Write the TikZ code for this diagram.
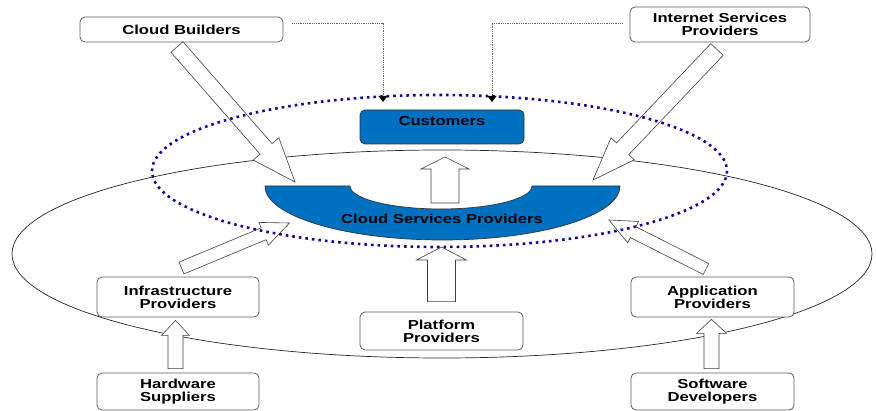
\documentclass[tikz,border=0pt]{standalone}
\usepackage{fontspec}
\usepackage{tikz}
\usetikzlibrary{arrows.meta, positioning, calc}
\newfontfamily\labelfont{Liberation Sans}[FakeStretch=1.28]
\definecolor{csblue}{RGB}{0,112,192}
\definecolor{ringblue}{RGB}{12,12,150}
\definecolor{boxline}{RGB}{90,90,90}
\tikzset{%
	provider box/.style={
		draw=boxline,
		fill=white,
		line width=0.8pt,
		rounded corners=5pt,
		inner sep=0pt,
		align=center,
		font=\labelfont\bfseries\fontsize{13}{13}\selectfont
	},
	service box/.style={
		provider box,
		draw=black!80,
		fill=csblue
	},
	block arrow/.style={
		draw=black!75,
		fill=white,
		line width=0.6pt,
		line join=miter
	},
	feed link/.style={
		draw=black!60,
		line width=0.8pt,
		densely dotted,
		-{Triangle[width=9pt,length=6pt,black]}
	},
	market ring/.style={
		draw=ringblue,
		line width=2.6pt,
		dash pattern=on 2.6pt off 4pt
	},
}
% hollow arrow: tail, tip, half shaft width, half head width, head length
\newcommand{\hollowarrow}[5]{%
	\coordinate (hb) at ($(#2)!#5!(#1)$);
	\path[block arrow] ($(#1)!#3!90:(#2)$) -- ($(hb)!#3!-90:(#1)$)
		-- ($(hb)!#4!-90:(#1)$) -- (#2) -- ($(hb)!#4!90:(#1)$)
		-- ($(hb)!#3!90:(#1)$) -- ($(#1)!#3!-90:(#2)$) -- cycle;
}

\begin{document}
\begin{tikzpicture}[x=1pt, y=-1pt]
	\useasboundingbox (0,0) rectangle (876,411);

	% the whole market
	\draw[black!85, line width=0.7pt] (442,254) ellipse [x radius=430, y radius=104];

	% providers and suppliers
	\node[provider box, minimum width=203pt, minimum height=25pt] (cb) at (181.5,29.5) {Cloud Builders};
	\node[provider box, minimum width=180pt, minimum height=35pt] (isp) at (720,24.5) {Internet Services\\Providers};
	\node[provider box, minimum width=162pt, minimum height=40pt] (infra) at (178,297) {Infrastructure\\Providers};
	\node[provider box, minimum width=163pt, minimum height=40pt] (app) at (712.5,297) {Application\\Providers};
	\node[provider box, minimum width=163pt, minimum height=38pt] (plat) at (441.5,331) {Platform\\Providers};
	\node[provider box, minimum width=162pt, minimum height=37pt] (hw) at (178,391.5) {Hardware\\Suppliers};
	\node[provider box, minimum width=163pt, minimum height=37pt] (sw) at (712.5,391.5) {Software\\Developers};

	% customers on top
	\node[service box, minimum width=164pt, minimum height=34pt] (cust) at (442,127) {Customers\\\mbox{}};

	% cloud services providers band
	\coordinate (csp) at (442,186);
	\draw[draw=black!80, fill=csblue, line width=0.7pt] (265,186) -- (350,186)
		arc[start angle=180, end angle=0, x radius=91, y radius=23] -- (620,186)
		arc[start angle=0, end angle=180, x radius=177.5, y radius=54] -- cycle;
	\node[font=\labelfont\bfseries\fontsize{13}{13}\selectfont] (csp-label) at (442,219) {Cloud Services Providers};

	% arrow ends
	\coordinate (cb-out) at (177,47);
	\coordinate (cb-in) at (295,182);
	\coordinate (isp-out) at (717,49.5);
	\coordinate (isp-in) at (593,180);
	\coordinate (infra-out) at (181.5,268);
	\coordinate (infra-in) at (289.5,223);
	\coordinate (app-out) at (706,269);
	\coordinate (app-in) at (609,220);
	\coordinate (csp-up) at (445,203);
	\coordinate (cust-in) at (445,157);
	\coordinate (plat-up) at ([yshift=10pt]plat.north);
	\coordinate (plat-in) at (441.5,247);
	\coordinate (hw-up) at ([shift={(-2.5pt,4pt)}]hw.north);
	\coordinate (infra-foot) at ([shift={(-2.5pt,-3pt)}]infra.south);
	\coordinate (sw-up) at ([shift={(-1pt,4pt)}]sw.north);
	\coordinate (app-foot) at ([shift={(-1pt,-2pt)}]app.south);

	\hollowarrow{cb-out}{cb-in}{8pt}{17pt}{44pt}
	\hollowarrow{isp-out}{isp-in}{8.5pt}{16pt}{43pt}
	\hollowarrow{infra-out}{infra-in}{6.4pt}{12.3pt}{28pt}
	\hollowarrow{app-out}{app-in}{6.1pt}{12pt}{27pt}
	\hollowarrow{csp-up}{cust-in}{14pt}{24pt}{12pt}
	\hollowarrow{plat-up}{plat-in}{14pt}{25pt}{13pt}
	\hollowarrow{hw-up}{infra-foot}{7.5pt}{14pt}{15pt}
	\hollowarrow{sw-up}{app-foot}{7.5pt}{15pt}{14pt}

	% cloud market ring
	\draw[market ring] (439.5,171) ellipse [x radius=287.5, y radius=76];

	% dotted feeds to customers
	\coordinate (cb-drop) at (383,102);
	\coordinate (isp-drop) at (492,102);
	\draw[feed link] ([shift={(9pt,6.5pt)}]cb.east) -| (cb-drop);
	\draw[feed link] ([shift={(-7pt,1.5pt)}]isp.west) -| (isp-drop);
\end{tikzpicture}
\end{document}
